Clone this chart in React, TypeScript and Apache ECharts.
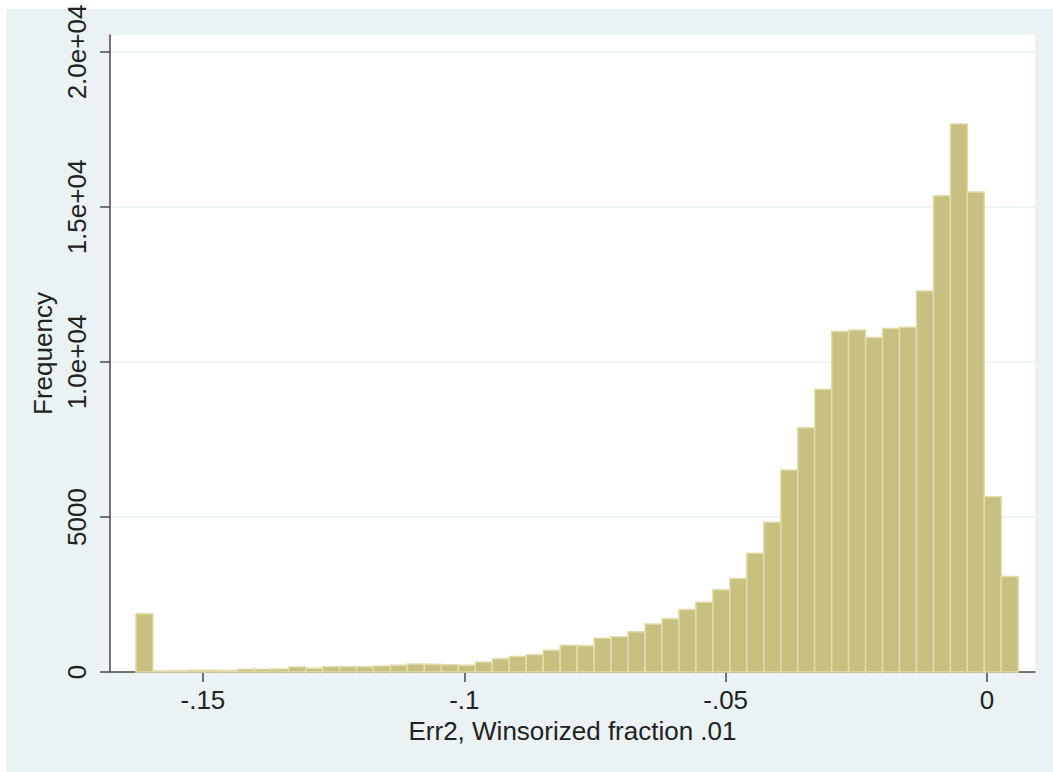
import React, { useEffect, useRef } from "react";
import * as echarts from "echarts";

const binStart = -0.16281;
const binWidth = 0.003246;
const frequencies = [
  1880, 30, 40, 60, 60, 50, 90, 90, 100, 160, 120, 170, 170, 170, 190, 220, 260,
  250, 230, 220, 320, 430, 500, 560, 700, 860, 850, 1090, 1140, 1300, 1550, 1720,
  2020, 2250, 2650, 3020, 3830, 4830, 6520, 7880, 9120, 10980, 11030, 10790, 11080,
  11120, 12290, 15360, 17680, 15480, 5650, 3080,
];
const xTickValues = [-0.15, -0.1, -0.05, 0];
const xTickLabels = ["-.15", "-.1", "-.05", "0"];
const yTickValues = [0, 5000, 10000, 15000, 20000];
const yTickLabels = ["0", "5000", "1.0e+04", "1.5e+04", "2.0e+04"];
const xTitle = "Err2, Winsorized fraction .01";
const yTitle = "Frequency";

const FONT = '"Liberation Sans", Arial, Helvetica, sans-serif';
const TEXT = "#222222";
const AXIS = "#4a4a4a";

export default function App() {
  const ref = useRef<HTMLDivElement>(null);
  useEffect(() => {
    document.body.style.margin = "0";
    document.body.style.overflow = "hidden";
    const chart = echarts.init(ref.current!, null, { renderer: "svg" });
    const data = frequencies.map((f, i) => [
      binStart + i * binWidth,
      binStart + (i + 1) * binWidth,
      f,
    ]);
    const labelFor = (vals: number[], labels: string[]) => (v: number) => {
      const idx = vals.findIndex((t) => Math.abs(t - v) < 1e-9);
      return idx >= 0 ? labels[idx] : "";
    };
    chart.setOption({
      animation: false,
      backgroundColor: "#EAF2F3",
      textStyle: { fontFamily: FONT },
      graphic: [
        { type: "rect", z: -100, shape: { x: 0, y: 0, width: 1053, height: 9 }, style: { fill: "#ffffff" } },
        { type: "rect", z: -100, shape: { x: 0, y: 0, width: 6, height: 772 }, style: { fill: "#ffffff" } },
      ],
      grid: {
        left: 110,
        right: 18,
        top: 35,
        bottom: 100,
        show: true,
        backgroundColor: "#ffffff",
        borderWidth: 0,
      },
      xAxis: {
        type: "value",
        min: -0.16778,
        max: 0.00918,
        name: xTitle,
        nameLocation: "middle",
        nameGap: 44,
        nameTextStyle: { fontSize: 26, color: TEXT, fontFamily: FONT },
        axisLine: { show: true, onZero: false, lineStyle: { color: AXIS, width: 1.5 } },
        axisTick: {
          show: true,
          length: 10,
          customValues: xTickValues,
          lineStyle: { color: AXIS, width: 1.5 },
        },
        axisLabel: {
          customValues: xTickValues,
          fontSize: 26,
          color: TEXT,
          margin: 15,
          formatter: labelFor(xTickValues, xTickLabels),
        },
        splitLine: { show: false },
      },
      yAxis: {
        type: "value",
        min: 0,
        max: 20548,
        name: yTitle,
        nameLocation: "middle",
        nameRotate: 90,
        nameGap: 50,
        nameTextStyle: { fontSize: 26, color: TEXT, fontFamily: FONT },
        axisLine: { show: true, onZero: false, lineStyle: { color: AXIS, width: 1.5 } },
        axisTick: {
          show: true,
          length: 10,
          customValues: yTickValues,
          lineStyle: { color: AXIS, width: 1.5 },
        },
        axisLabel: {
          customValues: yTickValues,
          rotate: 90,
          fontSize: 26,
          color: TEXT,
          margin: 20,
          formatter: labelFor(yTickValues, yTickLabels),
        },
        splitLine: { show: true, lineStyle: { color: "#EAF2F3", width: 1.5 } },
      },
      series: [
        {
          type: "custom",
          encode: { x: [0, 1], y: 2 },
          data,
          renderItem: (params: any, api: any) => {
            const x0 = api.value(0);
            const x1 = api.value(1);
            const y = api.value(2);
            const p0 = api.coord([x0, y]);
            const p1 = api.coord([x1, 0]);
            return {
              type: "rect",
              shape: { x: p0[0], y: p0[1], width: p1[0] - p0[0], height: p1[1] - p0[1] },
              style: { fill: "#C8C080", stroke: "#E2DCAA", lineWidth: 1.5 },
            };
          },
        },
      ],
    });
    return () => chart.dispose();
  }, []);
  return <div ref={ref} style={{ width: 1053, height: 772 }} />;
}
